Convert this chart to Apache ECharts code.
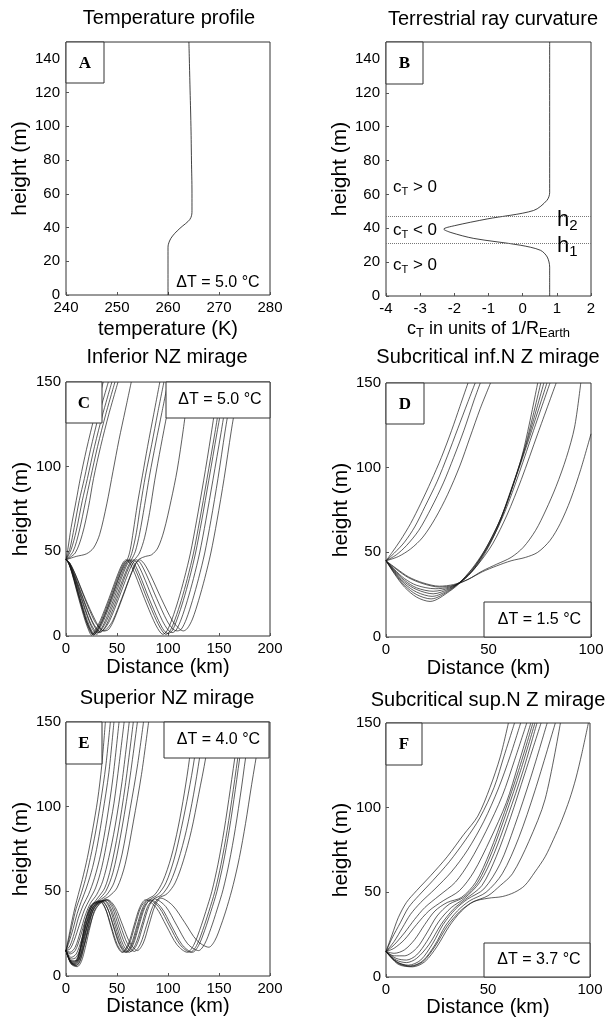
<!DOCTYPE html>
<html>
<head>
<meta charset="utf-8">
<script src="https://cdn.jsdelivr.net/npm/echarts@6/dist/echarts.min.js"></script>
<style>
  html, body { margin: 0; padding: 0; background: #fff; }
  #main { width: 608px; height: 1022px; }
</style>
</head>
<body>
<div id="main"></div>
<script>
// ---- data ----
const heightTicksTop = [0, 20, 40, 60, 80, 100, 120, 140];
const heightMaxTop = 150;
const heightTicks = [0, 50, 100, 150];
const tempTicks = [240, 250, 260, 270, 280];
const curvTicks = [-4, -3, -2, -1, 0, 1, 2];
const distLong = [0, 50, 100, 150, 200];
const distShort = [0, 50, 100];

// A: temperature (K), height (m)
const tempProfile = [[260, 0], [260, 28], [260.3, 32], [260.9, 35], [261.8, 38], [262.9, 41], [263.9, 43.5],
  [264.5, 46], [264.7, 50], [264.7, 60], [264.6, 80], [264.5, 100], [264.3, 125], [264.1, 150]];

// B: c_T (1/R_Earth), height (m)
const curvature = [[0.79, 0], [0.79, 17], [0.72, 23], [0.52, 27], [-0.07, 30], [-1.43, 34], [-2.1, 37.5],
  [-2.31, 39.5], [-2.0, 41.5], [-1.04, 45.5], [0.32, 50.5], [0.71, 56.5], [0.79, 61], [0.79, 150]];
const hLevels = [31.3, 47.2];

// C: inferior NZ mirage, rays [distance km, height m]
const raysC = [
  [[0,45],[2,52],[5,64],[10,80],[14,93],[20,110],[28,130],[36.5,150]],
  [[0,45],[4,52],[8,64],[13,80],[18,93],[24,110],[32,130],[41.5,150]],
  [[0,45],[5,51],[10,62],[16,80],[21,93],[28,112],[36,131],[45,150]],
  [[0,45],[7,50],[13,62],[19,79],[24,93],[31,112],[39,131],[48,150]],
  [[0,45],[9,49],[16,60],[22,76],[27,93],[34,112],[42,131],[51,150]],
  [[0,45],[10,47],[20,48.5],[27,52],[33,60],[40,78],[46,97],[52,116],[58,133],[64,150]],
  [[0,45],[2.6,43],[6.5,36],[13,22],[19.5,9],[23.4,3],[26,1],[29.4,3],[34.5,9],[43,22],[51.5,36],[56.6,43],[60,45],[63,51],[66,62],[70,78],[75,95],[80,112],[86,131],[92,150]],
  [[0,45],[2.7,43],[6.8,36],[13.5,22],[20,9],[24.3,3],[27,1],[30.5,3],[35.8,9],[44.5,22],[53,36],[58.5,43],[62,45],[65,50],[69,61],[73,77],[78,95],[84,113],[90,132],[96,150]],
  [[0,45],[3,43],[7.5,36],[15,22],[22.5,9],[27,3],[30,1],[33.4,3],[38.5,9],[47,22],[55.5,36],[60.6,43],[64,45],[68,50],[72,60],[77,77],[82,95],[88,114],[94,132],[100,150]],
  [[0,45],[3.3,43],[8,36],[16.5,22],[25,9],[30,3.5],[33,2],[36.4,3.5],[41.5,9],[50,22],[58.5,36],[63.6,43],[67,45],[72,49],[77,58],[82,73],[87,92],[93,112],[99,131],[105,150]],
  [[0,45],[3.8,43],[9.5,36],[19,22],[28.5,9.5],[34,4],[38,3],[42,4],[47,9.5],[55,22],[63.5,36],[68.6,43],[72,45.5],[78,47],[84,48],[90,52],[96,62],[103,80],[109,98],[115,122],[121,150]],
  [[0,45],[2.5,43],[6.3,36],[12.5,22],[18.8,9],[22.5,3],[25,0.5],[28.4,3],[33.5,9],[42,22],[50.5,36],[55.6,43],[59,45],[62.6,43],[68,36],[77,22],[86,9],[91.4,3],[95,1],[99,3],[104,10],[110,21],[116,34],[122,49],[128,68],[135,92],[142,118],[150,150]],
  [[0,45],[2.7,43],[6.8,36],[13.5,22],[20,9],[24.3,3],[27,0.5],[30.4,3],[35.5,9],[44,22],[52.5,36],[57.6,43],[61,45],[64.7,43],[70.3,36],[79.5,22],[88.8,9],[94.3,3],[98,1],[102,3],[107,10],[113,21],[119,34],[125,49],[131,68],[138,92],[146,120],[154,150]],
  [[0,45],[2.8,43],[7,36],[14,22],[21,9],[25.2,3],[28,1],[31.5,3],[36.8,9],[45.5,22],[54.3,36],[59.5,43],[63,45],[66.7,43],[72.3,36],[81.5,22],[90.8,9],[96.3,3],[100,1.5],[104,3],[109,10],[115,21],[121,34],[127,49],[133,68],[140,92],[148,120],[157,150]],
  [[0,45],[3.1,43],[7.8,36],[15.5,22],[23,9],[27.9,3.5],[31,2],[34.5,3.5],[39.8,9],[48.5,22],[57.3,36],[62.5,43],[66,45],[69.8,43],[75.5,36],[85,22],[94.5,9],[100.2,3.5],[104,2],[108,3.5],[113,10],[119,21],[125,34],[131,49],[137,68],[144,92],[152,120],[160,150]],
  [[0,45],[3.4,43],[8.5,36],[17,22],[25.5,9],[30.6,4],[34,2.5],[37.5,4],[42.8,9],[51.5,22],[60.3,36],[65.5,43],[69,45],[73,43],[79,36],[89,22],[99,9],[105,4],[109,3],[113,4],[118,10],[124,21],[130,34],[136,49],[142,68],[149,93],[156,121],[164,150]],
  [[0,45],[3.7,43],[9.3,36],[18.5,22],[27.8,9],[33.3,4.5],[37,3],[40.5,4.5],[45.8,9],[54.5,22],[63.3,36],[68.5,43],[72,45],[76.3,43],[82.8,36],[93.5,22],[104.3,9],[110.7,4.5],[115,3],[119,4.5],[124,10],[130,21],[136,34],[142,49],[148,68],[155,93],[162,121],[170,150]]
];

// D: subcritical inferior mirage
const raysD = [
  [[0,45],[3,50],[7,57],[12,67],[17,79],[22,92],[27,106],[32,122],[36,136],[40,150]],
  [[0,45],[4,49.5],[9,56],[14,65],[19,77],[25,92],[30,107],[35,123],[40,139],[43.5,150]],
  [[0,45],[5,48.5],[10,54],[16,63],[22,76],[28,91],[33,106],[38,122],[43,140],[46,150]],
  [[0,45],[6,47.5],[12,52],[18,59],[24,70],[30,84],[36,101],[41,118],[46,135],[51,150]],
  [[0,45],[4,40],[9,34.5],[15,30.5],[24,28.5],[31,29.5],[37,33],[43,40],[49,51],[55,66],[61,86],[67,110],[74,150]],
  [[0,45],[4,39.5],[9,33.5],[15,29],[23,27],[31,29],[37,33],[43,40.5],[49,52],[55,67],[61,87],[68,113],[75.5,150]],
  [[0,45],[4,39],[9,32.5],[15,28],[23,25.5],[31,28.5],[37,33],[43,41],[49,53],[56,70],[62,90],[69,116],[77,150]],
  [[0,45],[4,38.5],[9,31.5],[15,26.5],[22.5,24],[31,28],[37,33.5],[43,42],[50,55],[57,73],[63,93],[70,118],[78.5,150]],
  [[0,45],[4,38],[9,30.5],[15,25],[22,22.5],[31,27.5],[37,33.5],[44,43],[51,56],[58,74],[65,97],[72,122],[80,150]],
  [[0,45],[4,37.5],[9,29.5],[15,23.5],[21.5,21],[31,27],[38,34],[45,43],[52,55],[59,72],[66,93],[74,120],[83,150]],
  [[0,45],[5,40],[11,35],[18,31.5],[26,29.5],[33,30.5],[40,34],[47,39],[54,43],[61,47],[67,53],[73,63],[78,75],[83,89],[88,106],[92,124],[95,150]],
  [[0,45],[5,40.5],[11,35.5],[18,32],[26,30],[33,31],[40,34],[47,38.5],[54,42],[61,45],[68,47],[74,50],[80,57],[85,67],[90,81],[95,99],[100,120]]
];

// E: superior NZ mirage
const raysE = [
  [[0,15],[3,24],[6,33],[9,41],[12,48],[16,57],[21,70],[26,86],[31,104],[35,124],[38.6,150]],
  [[0,15],[3,22],[6,30],[10,40],[14,47],[19,57],[24,70],[29,85],[34,103],[39,124],[43.5,150]],
  [[0,15],[3,20],[7,28],[11,37],[15,44],[20,52],[26,64],[31,78],[36,96],[42,120],[47,150]],
  [[0,15],[4,18],[8,25],[12,34],[17,42],[22,48],[28,58],[34,72],[40,92],[46,117],[52,150]],
  [[0,15],[4,16],[8,21],[13,30],[18,39],[23,45],[29,52],[35,64],[41,82],[47,102],[52,125],[57,150]],
  [[0,15],[4,14],[9,17],[14,26],[19,36],[24,43],[30,48],[36,56],[42,70],[48,88],[55,115],[62,150]],
  [[0,15],[4,13],[9,15],[14,23],[19,33],[25,41],[31,46],[38,52],[44,64],[51,85],[58,112],[66,150]],
  [[0,15],[5,11],[10,13],[15,21],[20,31],[26,40],[32,45],[39,50],[46,61],[53,81],[61,110],[70,150]],
  [[0,15],[5,10],[10,11],[15,18],[20,28],[26,38],[33,44.5],[40,48],[47,55],[55,72],[63,99],[70,124],[76,150]],
  [[0,15],[5,9],[11,9],[16,15],[22,27],[28,38],[35,44.5],[42,47],[50,52],[58,66],[66,91],[74,119],[81,150]],
  [[0,15],[4,9],[8,7.5],[12,11],[16,22],[20,34],[25,42],[33,44.5],[38.5,40],[44,29],[49.5,18.5],[55,14],[60.8,18.5],[66.5,29.5],[72.3,40.5],[78,45],[88.3,40.5],[98.5,29.5],[108.8,18.5],[119,14],[125,18],[131,27],[137,38],[143,50],[149,66],[155,86],[161,110],[167,135],[171,150]],
  [[0,15],[4,8.5],[8,7],[12,10],[16,20],[21,33],[26,41.5],[35,44.5],[40.8,40],[46.5,29],[52.3,18.5],[58,14],[63.8,18.5],[69.5,29.5],[75.3,40.5],[81,45],[91.3,40.5],[101.5,29.5],[111.8,18.5],[122,14],[128,18],[134,27],[140,38],[146,50],[152,66],[158,86],[164,110],[170,135],[175,150]],
  [[0,15],[5,8],[9,6.5],[13,9.5],[17,19],[22,32],[27,41],[37,44.5],[42.8,40],[48.5,29],[54.3,18.5],[60,14],[65.8,18.5],[71.5,29.5],[77.3,40.5],[83,45],[93.3,40.5],[103.5,29.5],[113.8,18.5],[124,14],[130,18],[136,27],[142,38],[148,50],[154,66],[160,86],[166,110],[172,135],[178,150]],
  [[0,15],[5,7.5],[10,6],[14,9],[18,18],[23,31],[28,40.5],[39,45],[45.3,40.5],[51.5,29.5],[57.8,19],[64,14.5],[69.8,19],[75.5,30],[81.3,41],[87,45.5],[97.8,41],[108.5,30],[119.3,19],[130,15],[136,19],[142,28],[148,39],[154,51],[160,67],[166,87],[172,111],[178,136],[184,150]],
  [[0,15],[5,7],[11,5.5],[15,8.5],[19,17],[24,30],[29,40],[41,45],[48.3,40.5],[55.5,30],[62.8,19.5],[70,15],[75.8,19.5],[81.5,30.5],[87.3,41.5],[93,46],[104.8,41.5],[116.5,31.5],[128.3,21],[140,17],[146,21],[152,30],[158,41],[164,54],[170,70],[176,90],[182,113],[189,138],[193,150]],
  [[0,15],[4,9.5],[8,8.5],[12,12],[16,23],[20,35],[25,42],[33,44],[38.8,39.5],[44.5,29],[50.3,18.5],[56,14],[61.8,18.5],[67.5,29.5],[73.3,40.5],[79,45],[87,48],[95,56],[103,70],[110,88],[116,108],[121,128],[125,150]],
  [[0,15],[4,9],[8,8],[12,11],[16,21],[21,34],[26,42],[35,44],[41,39.5],[47,29],[53,18.5],[59,14],[64.8,18.5],[70.5,29.5],[76.3,40.5],[82,45],[90,48],[98,55],[106,69],[113,87],[120,108],[126,129],[130,150]],
  [[0,15],[5,8],[9,7],[13,10.5],[17,20],[22,33],[27,41.5],[38,44.5],[44,40],[50,29],[56,18.5],[62,14],[68,18.5],[74,29.5],[80,41],[86,45.5],[94,48],[102,55],[110,68],[118,86],[125,107],[131,129],[136,150]],
  [[0,15],[5,7.5],[10,6.3],[14,9.5],[18,19],[23,32],[28,41],[40,45],[46.8,40.5],[53.5,29.5],[60.3,19],[67,14.5],[73,19],[79,30],[85,41],[91,46],[99,48.5],[107,55],[115,68],[123,86],[130,107],[137,129],[142,150]]
];

// F: subcritical superior mirage
const raysF = [
  [[0,15],[3,25],[6,35],[10,44],[15,51],[22,60],[30,71],[38,84],[45,95],[51,112],[56,130],[60,150]],
  [[0,15],[3,23],[7,32],[11,41],[16,48],[23,57],[31,68],[39,81],[46,94],[53,112],[58,131],[63,150]],
  [[0,15],[4,21],[8,29],[12,37],[17,44],[24,52],[32,62],[40,75],[48,92],[55,111],[61,131],[66,150]],
  [[0,15],[4,19],[9,26],[14,34],[19,41],[26,48],[34,56],[41,68],[49,86],[57,107],[63,128],[69,150]],
  [[0,15],[4,17],[9,22],[15,31],[21,39],[28,45],[36,51],[43,62],[51,81],[59,103],[65,126],[71,150]],
  [[0,15],[4,14],[9,16],[14,22],[19,31],[24,39],[30,44],[37,47],[44,56],[51,74],[58,97],[65,122],[72,150]],
  [[0,15],[4,12.5],[9,12.5],[15,17],[20,26],[25,36],[31,43],[38,47],[45,56],[52,74],[59,97],[66,122],[73,150]],
  [[0,15],[5,11],[10,10],[15,13],[20,21],[26,33],[32,41],[38.5,46.5],[46,56],[53,73],[60,96],[67,121],[74,150]],
  [[0,15],[5,10],[10,8.5],[15,11],[21,19],[27,31],[33,40],[39,46],[47,54],[54,71],[61,94],[68,120],[76,150]],
  [[0,15],[5,9],[11,7],[17,10],[23,20],[28,31],[34,40],[40,46],[48,52],[56,67],[63,89],[71,118],[79,150]],
  [[0,15],[6,8.5],[12,6.5],[18,9.5],[24,19],[29,30],[35,39],[41,45],[49,50],[57,61],[65,82],[73,110],[83,150]],
  [[0,15],[6,8],[12,6.3],[18,9],[24,18],[30,30],[36,38.5],[42,44],[50,48],[56,54],[62,61],[70,80],[78,105],[85.5,150]],
  [[0,15],[6,7.5],[13,6],[19,9],[25,18],[31,30],[37,39],[43,44.5],[50,46.5],[57,47.5],[63,50],[68,54],[73,62],[78,71],[82,81],[86,92],[90,105],[93,117],[96,132],[99.2,150]]
];

const panelTitles = ['Temperature profile', 'Terrestrial ray curvature', 'Inferior NZ mirage',
  'Subcritical inf.N Z mirage', 'Superior NZ mirage', 'Subcritical sup.N Z mirage'];
const panelLetters = ['A', 'B', 'C', 'D', 'E', 'F'];
const deltaT = ['5.0', '5.0', '1.5', '4.0', '3.7'];   // A, C, D, E, F

// ---- chart ----
const FONT = '"Liberation Sans", Arial, sans-serif';
var chart = echarts.init(document.getElementById('main'));

const grids = [
  { left: 66, top: 42, width: 204, height: 253 },
  { left: 386, top: 42, width: 205, height: 254 },
  { left: 66, top: 382, width: 204, height: 254 },
  { left: 386, top: 383, width: 205, height: 254 },
  { left: 66, top: 722, width: 204, height: 254 },
  { left: 386, top: 723, width: 204, height: 254 }
].map(g => Object.assign({ show: true, borderColor: '#333', borderWidth: 1 }, g));

function valAxis (ticks, idx, extra) {
  return Object.assign({
    type: 'value',
    gridIndex: idx,
    min: ticks[0],
    max: ticks[ticks.length - 1],
    interval: ticks[1] - ticks[0],
    axisLine: { show: false, onZero: false },
    axisTick: { show: true, inside: true, length: 3, lineStyle: { color: '#555' } },
    splitLine: { show: false },
    axisLabel: { color: '#000', fontSize: 15, fontFamily: FONT, margin: 5 },
    nameLocation: 'middle',
    nameTextStyle: { color: '#000', fontSize: 20, fontFamily: FONT }
  }, extra || {});
}

const yName = { name: 'height (m)', nameGap: 32, nameTextStyle: { color: '#000', fontSize: 21, fontFamily: FONT } };

const xAxes = [
  valAxis(tempTicks, 0, { name: 'temperature (K)', nameGap: 24 }),
  valAxis(curvTicks, 1, {
    name: '{n|c}{s|T}{n| in units of 1/R}{s|Earth}', nameGap: 22,
    nameTextStyle: {
      rich: {
        n: { fontSize: 18, fontFamily: FONT, color: '#000', lineHeight: 22, verticalAlign: 'middle' },
        s: { fontSize: 13, fontFamily: FONT, color: '#000', lineHeight: 12, verticalAlign: 'bottom' }
      }
    }
  }),
  valAxis(distLong, 2, { name: 'Distance (km)', nameGap: 21 }),
  valAxis(distShort, 3, { name: 'Distance (km)', nameGap: 21 }),
  valAxis(distLong, 4, { name: 'Distance (km)', nameGap: 13 }),
  valAxis(distShort, 5, { name: 'Distance (km)', nameGap: 14 })
];

const yAxes = [0, 1, 2, 3, 4, 5].map(i => {
  if (i < 2) {
    return valAxis(heightTicksTop, i, Object.assign({ max: heightMaxTop, axisLabel: { color: '#000', fontSize: 15, fontFamily: FONT, margin: 6, showMaxLabel: false } }, yName));
  }
  return valAxis(heightTicks, i, yName);
});

function line (data, idx, extra) {
  return Object.assign({
    type: 'line', xAxisIndex: idx, yAxisIndex: idx, data: data,
    smooth: 0.3, showSymbol: false, silent: true, animation: false,
    lineStyle: { color: '#111', width: 0.8 }
  }, extra || {});
}

function rayLines (rays, idx) {
  return rays.map(r => line(r, idx, { lineStyle: { color: '#1a1a1a', width: 0.7 } }));
}

const series = [
  line(tempProfile, 0, { smooth: 0.4 }),
  line(curvature, 1, {
    smooth: 0.3,
    markLine: {
      silent: true, symbol: 'none', label: { show: false },
      lineStyle: { type: 'dotted', color: '#777', width: 1 },
      data: hLevels.map(v => ({ yAxis: v }))
    }
  })
].concat(rayLines(raysC, 2), rayLines(raysD, 3), rayLines(raysE, 4), rayLines(raysF, 5));

// ---- text and boxes ----
const titlePos = [[169, 18], [493, 19], [167, 357], [488, 357], [167, 698], [488, 700]];
const letterBox = [[66, 42, 38, 41], [386, 42, 37, 42], [66, 382, 36, 41], [386, 383, 38, 41], [66, 722, 36, 42], [386, 723, 36, 42]];
const dtBox = [null, null, [166, 382, 104, 36], [484, 602, 107, 35], [164, 722, 105, 36], [484, 943, 106, 34]];

const graphics = [];
panelTitles.forEach((t, i) => {
  graphics.push({ type: 'text', x: titlePos[i][0], y: titlePos[i][1], z: 100,
    style: { text: t, font: '20px ' + FONT, fill: '#000', align: 'center', verticalAlign: 'middle' } });
});
letterBox.forEach((b, i) => {
  graphics.push({ type: 'rect', z: 100, shape: { x: b[0], y: b[1], width: b[2], height: b[3] },
    style: { fill: '#fff', stroke: '#333', lineWidth: 1 } });
  graphics.push({ type: 'text', z: 101, x: b[0] + b[2] / 2, y: b[1] + b[3] / 2 + 1,
    style: { text: panelLetters[i], font: 'bold 17px "Liberation Serif", "DejaVu Serif", serif', fill: '#000', align: 'center', verticalAlign: 'middle' } });
});
dtBox.forEach((b, i) => {
  if (!b) return;
  graphics.push({ type: 'rect', z: 100, shape: { x: b[0], y: b[1], width: b[2], height: b[3] },
    style: { fill: '#fff', stroke: '#333', lineWidth: 1 } });
  graphics.push({ type: 'text', z: 101, x: b[0] + b[2] / 2 + 2, y: b[1] + b[3] / 2,
    style: { text: '\u0394T = ' + deltaT[i - 1] + ' \u00B0C', font: '16px ' + FONT, fill: '#000', align: 'center', verticalAlign: 'middle' } });
});
// A: delta T without box
graphics.push({ type: 'text', z: 101, x: 218, y: 283,
  style: { text: '\u0394T = ' + deltaT[0] + ' \u00B0C', font: '16px ' + FONT, fill: '#000', align: 'center', verticalAlign: 'middle' } });

// B: curvature sign labels and layer heights
const subRich = function (big, small) {
  return {
    n: { fontSize: big, fontFamily: FONT, fill: '#000', lineHeight: big + 4, verticalAlign: 'middle' },
    s: { fontSize: small, fontFamily: FONT, fill: '#000', lineHeight: small, verticalAlign: 'bottom' }
  };
};
[['{n|c}{s|T}{n| > 0}', 187], ['{n|c}{s|T}{n| < 0}', 230], ['{n|c}{s|T}{n| > 0}', 265]].forEach(a => {
  graphics.push({ type: 'text', z: 101, x: 393, y: a[1],
    style: { text: a[0], rich: subRich(17, 11), align: 'left', verticalAlign: 'middle' } });
});
[['{n|h}{s|2}', 220], ['{n|h}{s|1}', 246]].forEach(a => {
  graphics.push({ type: 'text', z: 101, x: 557, y: a[1],
    style: { text: a[0], rich: subRich(22, 15), align: 'left', verticalAlign: 'middle' } });
});

var option = {
  backgroundColor: '#fff',
  animation: false,
  grid: grids,
  xAxis: xAxes,
  yAxis: yAxes,
  series: series,
  graphic: { elements: graphics }
};

option && chart.setOption(option);
</script>
</body>
</html>
